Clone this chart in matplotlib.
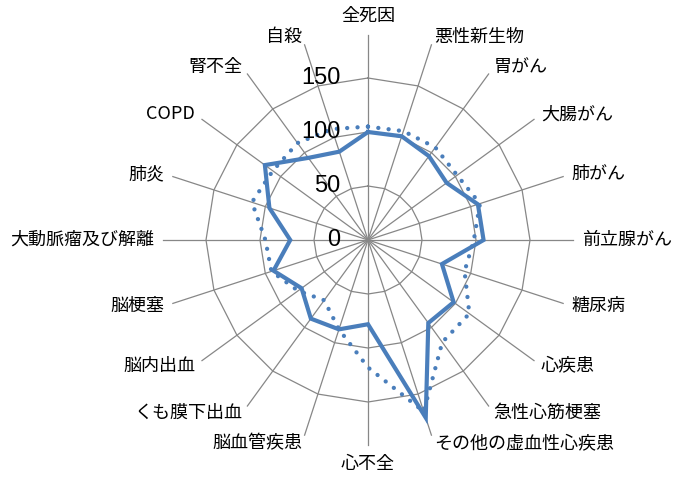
import numpy as np
import matplotlib
matplotlib.use('Agg')
import matplotlib.pyplot as plt

# categories, clockwise from the top
labels = ['全死因', '悪性新生物', '胃がん', '大腸がん', '肺がん', '前立腺がん', '糖尿病',
          '心疾患', '急性心筋梗塞', 'その他の虚血性心疾患', '心不全', '脳血管疾患',
          'くも膜下出血', '脳内出血', '脳梗塞', '大動脈瘤及び解離', '肺炎', 'COPD',
          '腎不全', '自殺']
# solid series
solid_vals = [100, 101, 96, 90, 107, 107, 72, 98, 95, 173, 78, 87, 90, 76, 92, 72, 96, 118, 94, 86]
# dotted series
dotted_vals = [105, 106, 106, 102, 109, 98, 94, 116, 117, 167, 118, 87, 69, 80, 94, 95, 113, 109, 111, 108]
rings = [50, 100, 150]
tick_vals = [0, 50, 100, 150]
spoke_len = 190

blue = '#4a7ebb'
grid = '#878787'
jp = ['Noto Sans CJK JP', 'DejaVu Sans']

n = len(labels)
angles = np.arange(n) * 2 * np.pi / n
closed = np.append(angles, angles[0])

fig = plt.figure(figsize=(6.73, 4.79), dpi=100)
ax = fig.add_axes([152 / 673, 23 / 479, 432 / 673, 432 / 479], projection='polar')
ax.set_theta_zero_location('N')
ax.set_theta_direction(-1)
ax.set_ylim(0, 200)
ax.axis('off')

# polygon rings and spokes
for r in rings:
    ax.plot(closed, [r] * (n + 1), color=grid, lw=0.9, zorder=1)
for a in angles:
    ax.plot([a, a], [0, spoke_len], color=grid, lw=0.9, zorder=1)

# data
ax.plot(closed, dotted_vals + dotted_vals[:1], color=blue, lw=3.1,
        linestyle=(0, (0.01, 2.4)), dash_capstyle='round', zorder=3)
ax.plot(closed, solid_vals + solid_vals[:1], color=blue, lw=3, zorder=4,
        solid_joinstyle='miter')

# radial tick labels, left of the vertical axis
for v in tick_vals:
    ax.annotate(str(v), xy=(0, v), xytext=(-20, 0), textcoords='offset points',
                ha='right', va='center', fontsize=17, family='Liberation Sans')

# category labels
for a, lab in zip(angles, labels):
    s, c = np.sin(a), np.cos(a)
    if abs(s) < 0.1:
        ha = 'center'
        va = 'bottom' if c > 0 else 'top'
        off = (0, 7 * np.sign(c))
    else:
        ha = 'left' if s > 0 else 'right'
        va = 'center'
        off = (6 * s, 6 * c)
    ax.annotate(lab, xy=(a, spoke_len), xytext=off, textcoords='offset points',
                ha=ha, va=va, fontsize=13, family=jp)

fig.savefig('out.png', dpi=100)
